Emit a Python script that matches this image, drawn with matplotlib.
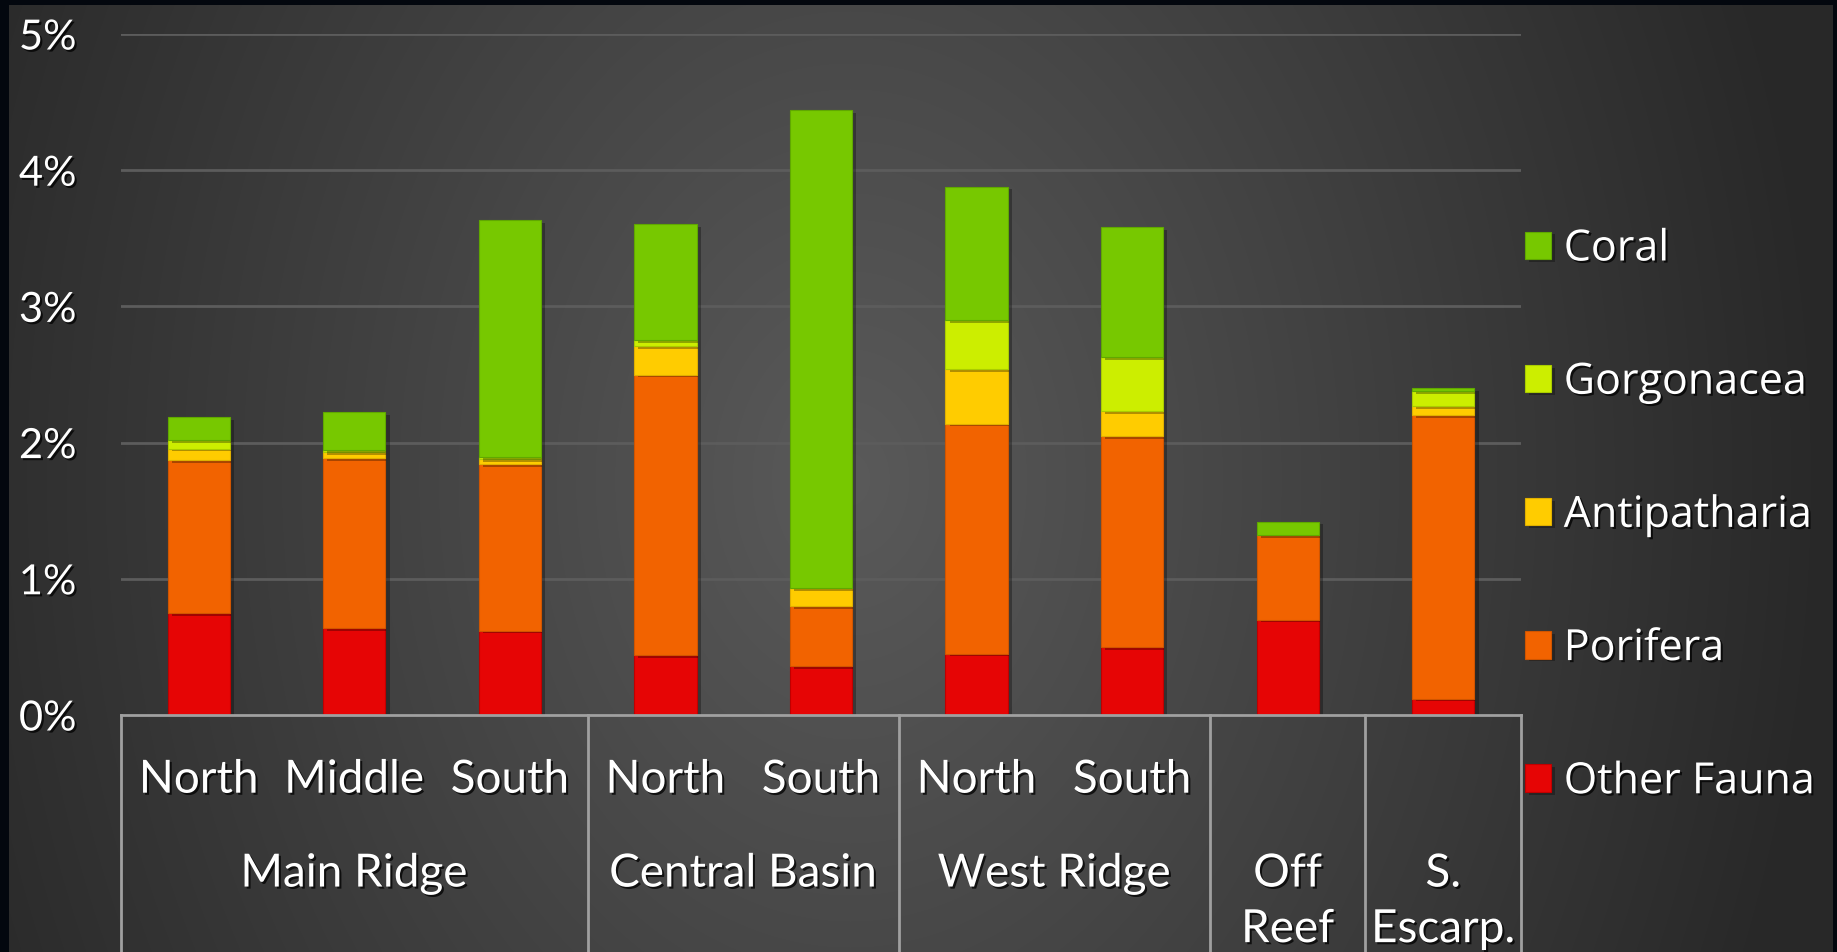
import numpy as np
import matplotlib
matplotlib.use("Agg")
import matplotlib.pyplot as plt
import matplotlib.patheffects as pe
from matplotlib.ticker import StrMethodFormatter

# Sub-site names under each region, bar by bar
sites = ["North", "Middle", "South", "North", "South", "North", "South", "", ""]
regions = ["Main Ridge", "Central Basin", "West Ridge", "Off\nReef", "S.\nEscarp."]
region_sizes = [3, 2, 2, 1, 1]

# Percent cover per taxon (stacked bottom to top)
other_fauna = [0.75, 0.64, 0.62, 0.44, 0.36, 0.45, 0.50, 0.70, 0.12]
porifera = [1.12, 1.245, 1.22, 2.06, 0.44, 1.69, 1.55, 0.62, 2.08]
antipatharia = [0.086, 0.045, 0.04, 0.21, 0.13, 0.40, 0.18, 0.0, 0.07]
gorgonacea = [0.065, 0.015, 0.012, 0.045, 0.0, 0.36, 0.40, 0.0, 0.11]
coral = [0.167, 0.28, 1.74, 0.85, 3.51, 0.98, 0.95, 0.10, 0.02]

series = [
    ("Other Fauna", other_fauna, "#e60505", "#c00000"),
    ("Porifera", porifera, "#f26300", "#d05500"),
    ("Antipatharia", antipatharia, "#ffcc00", "#e0b000"),
    ("Gorgonacea", gorgonacea, "#ccee00", "#aacc00"),
    ("Coral", coral, "#77c800", "#60a800"),
]

W, H = 1837, 953
fig = plt.figure(figsize=(W / 100, H / 100), dpi=100)
fig.patch.set_facecolor("#03070e")

# dark slide panel with a soft light spot in the middle
px0, px1, py0 = 9, 1833, 6
bg = fig.add_axes([px0 / W, 0, (px1 - px0) / W, (H - py0) / H], zorder=-10)
gx, gy = np.meshgrid(np.arange(px0, px1), np.arange(py0, H))
d = np.sqrt(((gx - 850) / 980.0) ** 2 + ((gy - 480) / 1300.0) ** 2)
f = np.clip(1 - d, 0, 1)
lo, hi = np.array([40, 40, 40]) / 255, np.array([90, 90, 90]) / 255
img = lo + (hi - lo) * f[..., None]
bg.imshow(img, aspect="auto", interpolation="bilinear")
bg.set_axis_off()

ax = fig.add_axes([121 / W, 1 - 716 / H, 1400 / W, 681 / H])
ax.patch.set_alpha(0)

txt_fx = [pe.withSimplePatchShadow(offset=(1.5, -1.5), shadow_rgbFace="black", alpha=0.75)]
bar_fx = [pe.withSimplePatchShadow(offset=(3, -2), shadow_rgbFace="black", alpha=0.3)]

x = np.arange(len(sites))
bottom = np.zeros(len(sites))
handles = []
for name, vals, col, edge in series:
    bars = ax.bar(x, vals, 0.4, bottom=bottom, color=col, edgecolor=edge,
                  linewidth=0.8, label=name, zorder=3)
    for b in bars:
        b.set_path_effects(bar_fx)
    handles.append(bars)
    bottom += np.array(vals)

ax.set_xlim(-0.5, len(sites) - 0.5)
ax.set_ylim(0, 5)
ax.set_yticks(range(0, 6))
ax.yaxis.set_major_formatter(StrMethodFormatter("{x:.0f}%"))
ax.tick_params(axis="y", length=0, pad=32, labelsize=30, labelcolor="white")
for lab in ax.get_yticklabels():
    lab.set_fontfamily("Lato")
    lab.set_path_effects(txt_fx)
ax.set_xticks([])
for s in ax.spines.values():
    s.set_visible(False)

for yv in range(1, 6):
    ax.axhline(yv, color="#5c5c5c", lw=2, zorder=1)

# two-level category box under the bars
line_col = "#a0a0a0"
ax.plot([-0.5, len(sites) - 0.5], [0, 0], color=line_col, lw=2, zorder=4, clip_on=False)
trans = ax.get_xaxis_transform()
edges = np.concatenate([[0], np.cumsum(region_sizes)]) - 0.5
for e in edges:
    ax.plot([e, e], [0, -0.4], color=line_col, lw=2, transform=trans, clip_on=False)

for i, s in enumerate(sites):
    ax.text(i, -0.095, s, transform=trans, ha="center", va="center", fontsize=33,
            color="white", family="Lato", path_effects=txt_fx)
for k, r in enumerate(regions):
    c = (edges[k] + edges[k + 1]) / 2
    ax.text(c, -0.202, r, transform=trans, ha="center", va="top", fontsize=33,
            color="white", family="Lato", linespacing=1.4, path_effects=txt_fx)

leg = fig.legend(handles[::-1], [s[0] for s in series][::-1], loc="upper left",
                 bbox_to_anchor=(1525 / W, 1 - 228 / H), frameon=False,
                 prop={"family": "Open Sans", "size": 31}, labelcolor="white",
                 handlelength=0.6, handleheight=0.6, handletextpad=0.3,
                 labelspacing=2.06, borderpad=0, borderaxespad=0)
for t in leg.get_texts():
    t.set_path_effects(txt_fx)

fig.savefig("out.png", dpi=100, facecolor=fig.get_facecolor())
